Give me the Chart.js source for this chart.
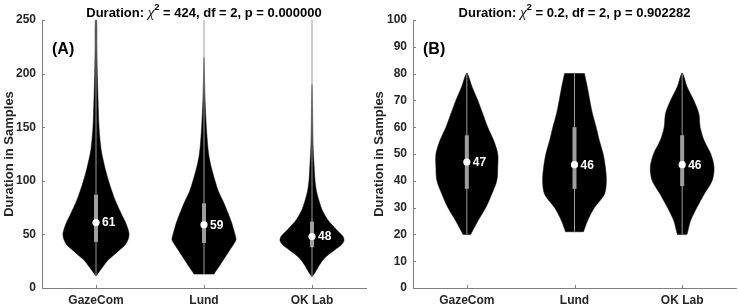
<!DOCTYPE html>
<html><head><meta charset="utf-8">
<script src="https://cdn.jsdelivr.net/npm/chart.js@4.4.1/dist/chart.umd.min.js"></script>
<style>
html,body{margin:0;padding:0;background:#fff;}
#wrap{position:relative;width:740px;height:308px;overflow:hidden;background:#fff}
.panel{position:absolute;top:0;width:370px;height:308px}
canvas{display:block}
</style></head><body>
<div id="wrap">
<div class="panel" style="left:0"><canvas id="cA" width="370" height="308"></canvas></div>
<div class="panel" style="left:370px"><canvas id="cB" width="370" height="308"></canvas></div>
</div>
<script>
// ---------- data ----------
const categories = ['GazeCom', 'Lund', 'OK Lab'];
const panelLabels = ['(A)', '(B)'];
const chiSq = ['424', '0.2'];
const dof = [2, 2];
const pValues = ['0.000000', '0.902282'];
const yTicksA = [0, 50, 100, 150, 200, 250];
const yTicksB = [0, 10, 20, 30, 40, 50, 60, 70, 80, 90, 100];

// Panel A summary statistics
const mediansA = [61, 59, 48];
const q1A = [43, 42, 38];
const q3A = [87, 79, 62];
const minA = [11, 13, 11];
const maxA = [250, 250, 250];

// Panel B summary statistics
const mediansB = [47, 46, 46];
const q1B = [37, 37, 38];
const q3B = [57, 60, 57];
const minB = [20, 21, 20];
const maxB = [80, 80, 80];

// Violin outlines: value levels and half-widths (category units)
const violinA_GazeCom_y = [11, 15, 20, 25, 30, 35, 40, 45, 50, 55, 60, 65, 70, 80, 90, 100, 110, 120, 130, 150, 175, 200, 225, 250];
const violinA_GazeCom_w = [0, .028, .065, .102, .157, .213, .269, .296, .306, .296, .278, .255, .231, .185, .148, .116, .088, .065, .046, .028, .019, .012, .008, .006];
const violinA_Lund_y = [13, 13.4, 20, 25, 30, 35, 40, 45, 50, 55, 60, 65, 70, 80, 90, 100, 110, 120, 130, 150, 175, 200, 215];
const violinA_Lund_w = [.093, .095, .139, .171, .204, .236, .269, .296, .287, .273, .259, .241, .222, .181, .134, .102, .074, .051, .037, .022, .010, .004, 0];
const violinA_OKLab_y = [10.5, 15, 20, 25, 30, 35, 40, 44, 48, 52, 57, 62, 67, 73, 80, 90, 100, 115, 130, 150, 175, 190];
const violinA_OKLab_w = [0, .032, .060, .093, .139, .204, .269, .296, .287, .250, .204, .157, .125, .093, .069, .042, .028, .019, .011, .007, .004, 0];

const violinB_GazeCom_y = [20, 20.3, 25, 30, 35, 40, 45, 50, 55, 60, 65, 70, 75, 80];
const violinB_GazeCom_w = [.037, .040, .102, .176, .231, .278, .287, .287, .250, .194, .148, .102, .049, .006];
const violinB_Lund_y = [21, 21.3, 25, 30, 35, 40, 45, 50, 55, 60, 65, 70, 75, 79.7, 80];
const violinB_Lund_w = [.083, .086, .120, .185, .278, .296, .287, .266, .231, .201, .167, .142, .119, .094, .093];
const violinB_OKLab_y = [20, 20.3, 25, 30, 35, 40, 45, 50, 55, 60, 65, 70, 75, 80];
const violinB_OKLab_w = [.044, .047, .077, .136, .204, .278, .296, .266, .204, .167, .155, .108, .046, .006];

// ---------- helpers ----------
const FONT = '"Liberation Sans", Arial, Helvetica, sans-serif';
const TXT = '#262626';

function violinPoints(center, levels, widths) {
  const left = levels.map((y, i) => ({x: center - widths[i], y}));
  const right = levels.map((y, i) => ({x: center + widths[i], y})).reverse();
  const pts = left.concat(right);
  pts.push({x: pts[0].x, y: pts[0].y});
  return pts;
}

function buildDatasets(violins, med, q1, q3, mn, mx) {
  const ds = [];
  violins.forEach((v, i) => {
    ds.push({
      type: 'scatter', showLine: true, data: violinPoints(i + 1, v[0], v[1]),
      borderColor: '#000', borderWidth: 0.5, backgroundColor: '#000',
      fill: 'shape', tension: 0.3, pointRadius: 0, order: 4
    });
    ds.push({
      type: 'scatter', showLine: true, data: [{x: i + 1, y: mn[i]}, {x: i + 1, y: mx[i]}],
      borderColor: '#9a9a9a', borderWidth: 1, pointRadius: 0, fill: false, order: 3
    });
    ds.push({
      type: 'scatter', showLine: true, data: [{x: i + 1, y: q1[i]}, {x: i + 1, y: q3[i]}],
      borderColor: '#9e9e9e', borderWidth: 4, borderCapStyle: 'butt', pointRadius: 0, fill: false, order: 2
    });
    ds.push({
      type: 'scatter', showLine: false, data: [{x: i + 1, y: med[i]}],
      pointRadius: 3.6, pointBackgroundColor: '#fff', pointBorderWidth: 0, order: 1
    });
  });
  return ds;
}

function makeChart(id, idx, yTicks, yMax, datasets, med, rightPad) {
  const decor = {
    id: 'decor' + idx,
    afterDraw(chart) {
      const ctx = chart.ctx;
      const xs = chart.scales.x, ys = chart.scales.y;
      const area = chart.chartArea;
      ctx.save();
      // inward tick marks
      ctx.strokeStyle = '#808080';
      ctx.lineWidth = 1;
      ctx.beginPath();
      yTicks.forEach(v => {
        const py = Math.round(ys.getPixelForValue(v)) + 0.5;
        ctx.moveTo(area.left, py); ctx.lineTo(area.left + 3, py);
      });
      categories.forEach((c, i) => {
        const px = Math.round(xs.getPixelForValue(i + 1)) + 0.5;
        ctx.moveTo(px, area.bottom); ctx.lineTo(px, area.bottom - 3);
      });
      ctx.stroke();
      // median labels
      ctx.fillStyle = '#fff';
      ctx.font = 'bold 12px ' + FONT;
      ctx.textAlign = 'left';
      ctx.textBaseline = 'middle';
      med.forEach((m, i) => {
        ctx.fillText(String(m), xs.getPixelForValue(i + 1) + 6, ys.getPixelForValue(m) + 0.5);
      });
      // panel label
      ctx.fillStyle = '#000';
      ctx.font = 'bold 16px ' + FONT;
      ctx.fillText(panelLabels[idx], area.left + 10, 50);
      // title
      const parts = [
        {t: 'Duration: ', f: 'bold 13px ' + FONT, dy: 0},
        {t: '\u03C7', f: 'italic 15px "Liberation Serif", "DejaVu Serif", serif', dy: 0},
        {t: '2', f: 'bold 9.5px ' + FONT, dy: -6.5},
        {t: ' = ' + chiSq[idx] + ', df = ' + dof[idx] + ', p = ' + pValues[idx], f: 'bold 13px ' + FONT, dy: 0}
      ];
      let total = 0;
      parts.forEach(p => { ctx.font = p.f; p.w = ctx.measureText(p.t).width; total += p.w; });
      let x = (area.left + area.right) / 2 - total / 2;
      ctx.textBaseline = 'alphabetic';
      ctx.fillStyle = '#000';
      parts.forEach(p => { ctx.font = p.f; ctx.fillText(p.t, x, 16.5 + p.dy); x += p.w; });
      ctx.restore();
    }
  };
  return new Chart(document.getElementById(id), {
    type: 'scatter',
    data: {datasets},
    options: {
      responsive: false, animation: false, devicePixelRatio: 1, events: [],
      layout: {padding: {top: 20, right: rightPad, bottom: 0, left: 0}},
      plugins: {legend: {display: false}, tooltip: {enabled: false}, title: {display: false}},
      scales: {
        x: {
          type: 'linear', min: 0.5, max: 3.5,
          afterBuildTicks: s => { s.ticks = categories.map((c, i) => ({value: i + 1})); },
          afterFit: s => { s.height = 20; },
          ticks: {callback: v => categories[v - 1] || '', color: TXT, font: {family: FONT, size: 12, weight: 'bold'}, padding: 5, maxRotation: 0, autoSkip: false},
          grid: {display: true, drawOnChartArea: false, drawTicks: false},
          border: {display: true, color: '#808080', width: 1}
        },
        y: {
          type: 'linear', min: 0, max: yMax,
          afterBuildTicks: s => { s.ticks = yTicks.map(v => ({value: v})); },
          afterFit: s => { s.width = 42 + (idx === 1 ? 1 : 0); },
          ticks: {color: TXT, font: {family: FONT, size: 12, weight: 'bold'}, padding: 6},
          grid: {display: true, drawOnChartArea: false, drawTicks: false},
          border: {display: true, color: '#808080', width: 1},
          title: {display: true, text: 'Duration in Samples', color: TXT, font: {family: FONT, size: 13, weight: 'bold'}, padding: {top: 2, bottom: 0}}
        }
      }
    },
    plugins: [decor]
  });
}

const dsA = buildDatasets(
  [[violinA_GazeCom_y, violinA_GazeCom_w], [violinA_Lund_y, violinA_Lund_w], [violinA_OKLab_y, violinA_OKLab_w]],
  mediansA, q1A, q3A, minA, maxA);
const dsB = buildDatasets(
  [[violinB_GazeCom_y, violinB_GazeCom_w], [violinB_Lund_y, violinB_Lund_w], [violinB_OKLab_y, violinB_OKLab_w]],
  mediansB, q1B, q3B, minB, maxB);

makeChart('cA', 0, yTicksA, 250, dsA, mediansA, 4);
makeChart('cB', 1, yTicksB, 100, dsB, mediansB, 3);
</script>
</body></html>
